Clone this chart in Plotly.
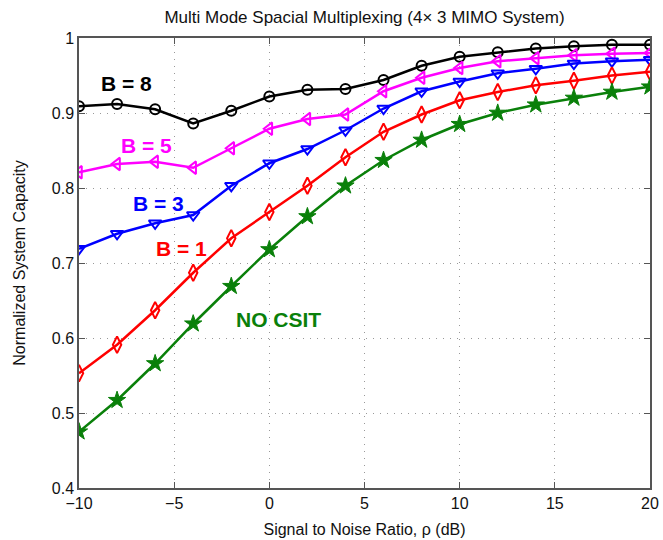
import plotly.graph_objects as go

snr_db = [-10, -8, -6, -4, -2, 0, 2, 4, 6, 8, 10, 12, 14, 16, 18, 20]

b8 = [0.909, 0.912, 0.905, 0.886, 0.903, 0.922, 0.931, 0.932, 0.944, 0.963,
      0.975, 0.981, 0.986, 0.989, 0.991, 0.991]
b5 = [0.821, 0.832, 0.835, 0.827, 0.853, 0.879, 0.892, 0.898, 0.929, 0.947,
      0.960, 0.969, 0.973, 0.977, 0.979, 0.980]
b3 = [0.719, 0.739, 0.753, 0.764, 0.803, 0.833, 0.852, 0.877, 0.906, 0.929,
      0.942, 0.953, 0.959, 0.966, 0.969, 0.971]
b1 = [0.553, 0.591, 0.637, 0.687, 0.733, 0.768, 0.803, 0.841, 0.875, 0.898,
      0.917, 0.928, 0.937, 0.943, 0.950, 0.955]
no_csit = [0.475, 0.517, 0.566, 0.619, 0.669, 0.718, 0.762, 0.803, 0.837, 0.864,
           0.885, 0.900, 0.911, 0.920, 0.928, 0.935]

series_names = ["B = 8", "B = 5", "B = 3", "B = 1", "NO CSIT"]
series_values = [b8, b5, b3, b1, no_csit]
series_colors = ["#000000", "#ff00ff", "#0000ff", "#ff0000", "#0a800a"]
series_symbols = ["circle-open", "triangle-left-open", "triangle-down-open",
                  "diamond-tall-open", "star"]
series_sizes = [10, 11, 11, 12, 13]

label_x = [-7.48, -6.48, -5.80, -4.61, 0.46]
label_y = [0.940, 0.857, 0.779, 0.720, 0.625]

x_ticks = [-10, -5, 0, 5, 10, 15, 20]
x_tick_text = ["\u221210", "\u22125", "0", "5", "10", "15", "20"]
y_ticks = [0.4, 0.5, 0.6, 0.7, 0.8, 0.9, 1.0]
y_tick_text = ["0.4", "0.5", "0.6", "0.7", "0.8", "0.9", "1"]

FONT = "Liberation Sans, Arial"

fig = go.Figure()
for name, vals, col, sym, sz in zip(series_names, series_values, series_colors,
                                    series_symbols, series_sizes):
    fig.add_trace(go.Scatter(
        x=snr_db, y=vals, mode="lines+markers", name=name,
        line=dict(color=col, width=2.5),
        marker=dict(symbol=sym, size=sz, color=col,
                    line=dict(color=col, width=2 if sym != "star" else 1)),
        showlegend=False,
    ))

for name, col, lx, ly in zip(series_names, series_colors, label_x, label_y):
    fig.add_annotation(x=lx, y=ly, text="<b>" + name + "</b>", showarrow=False,
                       font=dict(family=FONT, size=21, color=col))

axis_common = dict(
    showgrid=True, gridcolor="#999999", griddash="1px,6px", gridwidth=1,
    showline=True, linecolor="#555555", linewidth=1.5, mirror="ticks",
    ticks="inside", ticklen=6, tickcolor="#555555",
    zeroline=False, automargin=False,
    tickfont=dict(family=FONT, size=16, color="#111111"),
)

fig.update_xaxes(range=[-10, 20], tickvals=x_ticks, ticktext=x_tick_text,
                 title=dict(text="Signal to Noise Ratio, \u03c1 (dB)",
                            font=dict(family=FONT, size=16, color="#111111"),
                            standoff=13),
                 **axis_common)
fig.update_yaxes(range=[0.4, 1.0], tickvals=y_ticks, ticktext=y_tick_text,
                 title=dict(text="Normalized System Capacity",
                            font=dict(family=FONT, size=16, color="#111111"),
                            standoff=22),
                 **axis_common)

fig.update_layout(
    width=663, height=540,
    margin=dict(l=79, r=13, t=38, b=52),
    paper_bgcolor="white", plot_bgcolor="white",
    title=dict(text="Multi Mode Spacial Multiplexing (4\u00d7 3 MIMO System)",
               x=0.5, xref="paper", xanchor="center", y=0.968, yanchor="middle",
               font=dict(family=FONT, size=17, color="#111111")),
)

fig.write_html("out.html", config={"displayModeBar": False},
               post_script="document.body.style.margin='0';")
